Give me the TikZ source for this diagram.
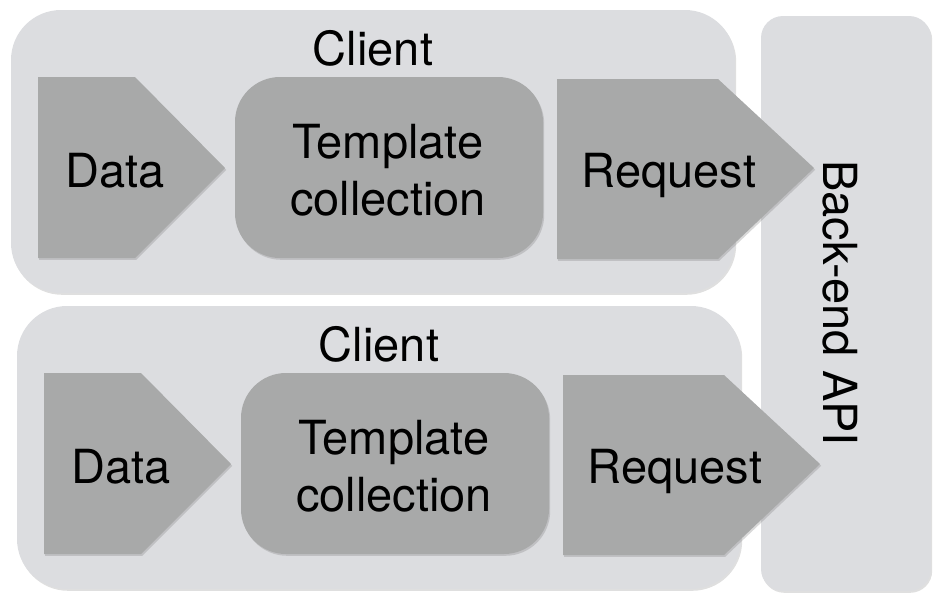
\documentclass[tikz,border=0pt]{standalone}
\usepackage{fontspec}
\setmainfont{TeX Gyre Heros}
\usepackage{tikz}
\usetikzlibrary{calc,shadows}
\definecolor{panelgray}{RGB}{220,221,224}
\definecolor{flowgray}{RGB}{168,169,169}

\begin{document}
\begin{tikzpicture}[x=0.5pt,y=-0.5pt,
    panel/.style={fill=panelgray,drop shadow={shadow xshift=0.6pt,shadow yshift=-0.9pt,opacity=0.25}},
    flow/.style={fill=flowgray,drop shadow={shadow xshift=0.6pt,shadow yshift=-0.9pt,opacity=0.3}},
    txt/.style={inner sep=0pt,font=\fontsize{23.5pt}{28.5pt}\selectfont}]
        \useasboundingbox (0,0) rectangle (948,606);
        % back-end
        \fill[panel,rounded corners=11pt] (761,16) rectangle (931,591);
        \node[txt,rotate=-90] (api) at (840,303) {Back-end API};
        % the two clients
        \foreach \i in {0,1}
        {
        \begin{scope}[shift={(6*\i,296*\i)}]
            \fill[panel,rounded corners=25pt] (11,10) rectangle (735,293);
            \node[txt,anchor=base] (client\i) at (373,65) {Client};
            \fill[flow] (38,77) -- (135,77) -- (225,168) -- (135,258) -- (38,258) -- cycle;
            \node[txt,anchor=base] (data\i) at (115,187) {Data};
            \fill[flow,rounded corners=22.5pt] (235,77) rectangle (543,258);
            \node[txt,align=center] (tmpl\i) at (388,170) {Template\\collection};
            \fill[flow] (557,79) -- (718,79) -- (814,168) -- (718,259) -- (557,259) -- cycle;
            \node[txt,anchor=base] (req\i) at (669,187) {Request};
        \end{scope}
        }
    \end{tikzpicture}
\end{document}
